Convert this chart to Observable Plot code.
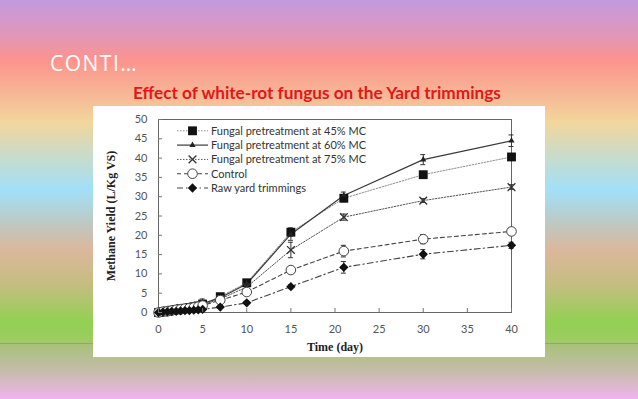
<!DOCTYPE html>
<html><head><meta charset="utf-8">
<script src="https://cdn.jsdelivr.net/npm/d3@7"></script>
<script src="https://cdn.jsdelivr.net/npm/@observablehq/plot@0.6"></script>
<style>
html,body{margin:0;padding:0;}
body{width:638px;height:399px;overflow:hidden;position:relative;
background:linear-gradient(to bottom,#c29ade 0px,#e097b8 35px,#fd938e 60px,#f6b895 95px,#f2d69c 122px,#c4dcd0 160px,#a2e0f8 190px,#bfc8c0 225px,#dcb79c 250px,#c4be80 285px,#92d052 322px,#9ccc62 340px,#a8c27a 345px,#c6bcac 372px,#f0b4f0 399px);}
#sep{position:absolute;left:0;top:343px;width:638px;height:1px;background:rgba(110,120,70,0.35);}
#conti{position:absolute;left:50px;top:49px;color:#fff;font:400 21px "Open Sans";letter-spacing:1.5px;}
#title{position:absolute;left:133px;top:82px;color:#e3161c;font:bold 17.2px Lato;white-space:nowrap;}
#panel{position:absolute;left:93px;top:106px;width:452px;height:251px;background:#fff;}
g[aria-label="x-axis label"] text, g[aria-label="y-axis label"] text{font:bold 12px "Liberation Serif";fill:#222;}
</style></head>
<body>
<div id="sep"></div>
<div id="conti">CONTI…</div>
<div id="title">Effect of white-rot fungus on the Yard trimmings</div>
<div id="panel"></div>
<script>
// ---- data ----
const days = [0,0.5,1,1.5,2,2.5,3,3.5,4,4.5,5,7,10,15,21,30,40];
const seriesNames = ["Fungal pretreatment at 45% MC","Fungal pretreatment at 60% MC","Fungal pretreatment at 75% MC","Control","Raw yard trimmings"];
const yield45 = [0,0.2,0.4,0.6,0.8,1.0,1.1,1.3,1.5,1.7,2.2,4.1,7.7,20.8,29.6,35.7,40.3];
const yield60 = [0,0.2,0.4,0.6,0.8,1.0,1.2,1.4,1.6,1.8,2.3,3.8,7.4,20.3,30.3,39.6,44.5];
const yield75 = [0,0.2,0.4,0.5,0.7,0.9,1.0,1.2,1.4,1.6,2.0,3.5,6.6,16.2,24.7,29.0,32.5];
const yieldControl = [0,0.2,0.3,0.5,0.7,0.8,1.0,1.1,1.3,1.5,1.8,3.2,5.3,11.0,15.9,19.0,21.0];
const yieldRaw = [0,0.1,0.2,0.3,0.3,0.4,0.5,0.5,0.6,0.7,0.8,1.4,2.5,6.7,11.7,15.1,17.4];
const err45 = [0,0,0,0,0,0,0,0,0,0,1.3,0.4,0.4,1.0,0.9,0.5,0.5];
const err60 = [0,0,0,0,0,0,0,0,0,0,0.5,0.4,0.4,1.6,0.9,1.3,1.5];
const err75 = [0,0,0,0,0,0,0,0,0,0,0.4,0.3,0.4,2.0,0.8,0.5,0.6];
const errControl = [0,0,0,0,0,0,0,0,0,0,0.3,0.3,0.6,0.8,1.5,1.2,1.0];
const errRaw = [0,0,0,0,0,0,0,0,0,0,0.2,0.3,0.4,0.5,1.5,1.2,0.8];
const xTicks = [0,5,10,15,20,25,30,35,40];
const yTicks = [0,5,10,15,20,25,30,35,40,45,50];

// ---- styles ----
const yields = [yield45,yield60,yield75,yieldControl,yieldRaw];
const errs = [err45,err60,err75,errControl,errRaw];
const styles = [
  {line:"#8c8c8c", dash:"1.5,1.5", lw:1, symbol:"square", r:5.0, fill:"#111", stroke:"none", sw:0},
  {line:"#3a3a3a", dash:null, lw:1.2, symbol:"triangle", r:2.3, fill:"#222", stroke:"none", sw:0},
  {line:"#555", dash:"1.5,1.5", lw:1, symbol:"times", r:3.6, fill:"none", stroke:"#333", sw:1.3},
  {line:"#444", dash:"4,3", lw:1.1, symbol:"circle", r:4.8, fill:"#fff", stroke:"#444", sw:1},
  {line:"#444", dash:"6,3,1.5,3", lw:1.1, symbol:"diamond2", r:4.2, fill:"#111", stroke:"none", sw:0}
];

const series = yields.map((vals,i)=>days.map((d,j)=>({s:i, day:d, y:vals[j], e:errs[i][j]})));

const marks = [Plot.frame({stroke:"#666"})];
series.forEach((rows,i)=>{
  const st = styles[i];
  marks.push(Plot.line(rows,{x:"day",y:"y",stroke:st.line,strokeWidth:st.lw,strokeDasharray:st.dash}));
});
series.forEach((rows,i)=>{
  const eb = rows.filter(d=>d.e>0);
  marks.push(Plot.ruleX(eb,{x:"day",y1:d=>d.y-d.e,y2:d=>d.y+d.e,stroke:"#333",strokeWidth:1}));
  marks.push(Plot.ruleY(eb,{y:d=>d.y+d.e,x1:"day",x2:"day",insetLeft:-2.5,insetRight:-2.5,stroke:"#333"}));
  marks.push(Plot.ruleY(eb,{y:d=>d.y-d.e,x1:"day",x2:"day",insetLeft:-2.5,insetRight:-2.5,stroke:"#333"}));
});
series.forEach((rows,i)=>{
  const st = styles[i];
  marks.push(Plot.dot(rows,{x:"day",y:"y",symbol:()=>st.symbol,r:st.r,fill:st.fill,stroke:st.stroke,strokeWidth:st.sw}));
});
marks.push(Plot.axisX({ticks:xTicks,tickSize:-4,tickPadding:17,fill:"#555",stroke:"#777",fontSize:11,label:"Time (day)",labelAnchor:"center",labelOffset:38,labelArrow:"none"}));
marks.push(Plot.axisY({ticks:yTicks,tickSize:-4,tickPadding:15,fill:"#555",stroke:"#777",fontSize:11,label:"Methane Yield (L/Kg VS)",labelAnchor:"center",labelOffset:52,labelArrow:"none"}));

const chart = Plot.plot({
  width:452, height:251,
  marginLeft:65, marginRight:34, marginTop:13, marginBottom:45,
  x:{domain:[0,40]}, y:{domain:[0,50]},
  style:{fontFamily:"Lato",fontSize:"10.5px",background:"transparent",overflow:"visible"},
  marks
});

// legend
const svg = d3.select(chart);
const lg = svg.append("g").attr("font-family","Lato").attr("font-size",11).attr("fill","#333").attr("text-anchor","start");
seriesNames.forEach((name,i)=>{
  const st = styles[i];
  const y = 24.8 + i*14.3;
  lg.append("line").attr("x1",84).attr("x2",115).attr("y1",y).attr("y2",y)
    .attr("stroke",st.line).attr("stroke-width",st.lw).attr("stroke-dasharray",st.dash);
  const typ = {square:d3.symbolSquare,triangle:d3.symbolTriangle,times:d3.symbolTimes,circle:d3.symbolCircle,diamond2:d3.symbolDiamond2}[st.symbol];
  lg.append("path").attr("d",d3.symbol(typ, Math.PI*st.r*st.r)()).attr("transform",`translate(99.5,${y})`)
    .attr("fill",st.fill).attr("stroke",st.stroke).attr("stroke-width",st.sw);
  lg.append("text").attr("x",118).attr("y",y).attr("dy","0.35em").attr("text-anchor","start").text(name);
});

document.getElementById("panel").appendChild(chart);
</script>
</body></html>
